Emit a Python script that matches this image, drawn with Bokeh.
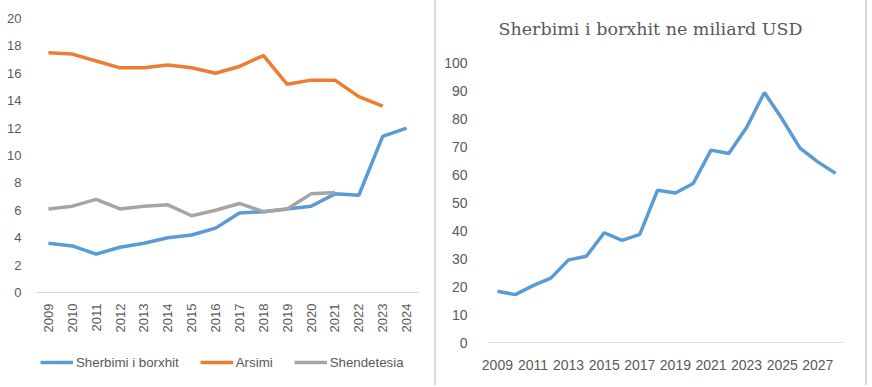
from bokeh.plotting import figure
from bokeh.layouts import row, column
from bokeh.models import Range1d, FixedTicker, Legend, LegendItem, Label
from bokeh.embed import file_html
from bokeh.resources import INLINE

# ---- data: left chart (share, %) ----
years_left = [2009, 2010, 2011, 2012, 2013, 2014, 2015, 2016, 2017, 2018, 2019, 2020, 2021, 2022, 2023, 2024]
sherbimi = [3.6, 3.4, 2.8, 3.3, 3.6, 4.0, 4.2, 4.7, 5.8, 5.9, 6.1, 6.3, 7.2, 7.1, 11.4, 12.0]
years_arsimi = [2009, 2010, 2011, 2012, 2013, 2014, 2015, 2016, 2017, 2018, 2019, 2020, 2021, 2022, 2023]
arsimi = [17.5, 17.4, 16.9, 16.4, 16.4, 16.6, 16.4, 16.0, 16.5, 17.3, 15.2, 15.5, 15.5, 14.3, 13.6]
years_shend = [2009, 2010, 2011, 2012, 2013, 2014, 2015, 2016, 2017, 2018, 2019, 2020, 2021]
shendetesia = [6.1, 6.3, 6.8, 6.1, 6.3, 6.4, 5.6, 6.0, 6.5, 5.9, 6.1, 7.2, 7.3]
left_yticks = [0, 2, 4, 6, 8, 10, 12, 14, 16, 18, 20]
series_names = ["Sherbimi i borxhit", "Arsimi", "Shendetesia"]

# ---- data: right chart (billion USD) ----
years_right = [2009, 2010, 2011, 2012, 2013, 2014, 2015, 2016, 2017, 2018, 2019,
               2020, 2021, 2022, 2023, 2024, 2025, 2026, 2027, 2028]
borxh_usd = [18.3, 17.1, 20.3, 23.0, 29.5, 30.8, 39.2, 36.5, 38.6, 54.4, 53.4,
             56.8, 68.7, 67.5, 76.8, 89.3, 79.8, 69.4, 64.5, 60.4]
right_xticks = [2009, 2011, 2013, 2015, 2017, 2019, 2021, 2023, 2025, 2027]
right_yticks = [0, 10, 20, 30, 40, 50, 60, 70, 80, 90, 100]
title_right = "Sherbimi i borxhit ne miliard USD"

BLUE = "#5b9bd5"
ORANGE = "#ed7d31"
GRAY = "#a5a5a5"
COLORS = [BLUE, ORANGE, GRAY]
LABEL = "#595959"
FONT = "Liberation Sans"
H = 385
H1 = 340
HT = 44
BORDER = {"border-left": "2px solid #d9d9d9", "border-right": "2px solid #d9d9d9"}

# ---------------- left figure ----------------
p1 = figure(width=434, height=H1, output_backend="svg", toolbar_location=None,
            x_range=Range1d(years_left[0] - 0.5, years_left[-1] + 0.5),
            y_range=Range1d(0, 20),
            min_border_left=36, min_border_right=16, min_border_top=18, min_border_bottom=H1 - 292)
p1.outline_line_color = None
p1.grid.visible = False

left_series = [(years_left, sherbimi), (years_arsimi, arsimi), (years_shend, shendetesia)]
for (xs, ys), col in zip(left_series, COLORS):
    p1.line(xs, ys, line_color=col, line_width=3.5)

p1.xaxis.ticker = FixedTicker(ticks=years_left)
p1.xaxis.major_label_orientation = 3.14159265 / 2
p1.xaxis.axis_line_color = "#d9d9d9"
p1.xaxis.major_tick_line_color = None
p1.xaxis.minor_tick_line_color = None
p1.xaxis.major_label_standoff = 5
p1.yaxis.ticker = FixedTicker(ticks=left_yticks)
p1.yaxis.axis_line_color = None
p1.yaxis.major_tick_line_color = None
p1.yaxis.minor_tick_line_color = None
p1.yaxis.major_label_standoff = 9
for ax in (p1.xaxis, p1.yaxis):
    ax.major_label_text_font = FONT
    ax.major_label_text_font_size = "13px"
    ax.major_label_text_color = LABEL

# ---------------- legend strip under the left chart ----------------
p3 = figure(width=434, height=H - H1, output_backend="svg", toolbar_location=None,
            x_range=Range1d(0, 1), y_range=Range1d(0, 1),
            x_axis_location=None, y_axis_location=None,
            min_border_left=36, min_border_right=16, min_border_top=0, min_border_bottom=0)
p3.outline_line_color = None
p3.grid.visible = False
items = []
for name, (xs, ys), col in zip(series_names, left_series, COLORS):
    # same series, drawn outside this strip's visible range: only its legend swatch shows
    r = p3.line(xs, ys, line_color=col, line_width=3.5)
    items.append(LegendItem(label=name, renderers=[r]))
legend = Legend(items=items, orientation="horizontal", location=(4, 13))
legend.border_line_color = None
legend.background_fill_alpha = 0
legend.padding = 0
legend.margin = 0
legend.glyph_width = 33
legend.label_standoff = 3
legend.spacing = 21
legend.label_text_font = FONT
legend.label_text_font_size = "13.3px"
legend.label_text_color = LABEL
p3.add_layout(legend, "center")

# ---------------- title strip above the right chart ----------------
pt = figure(width=433, height=HT, output_backend="svg", toolbar_location=None,
            x_range=Range1d(0, 1), y_range=Range1d(0, 1),
            x_axis_location=None, y_axis_location=None,
            min_border_left=52, min_border_right=25, min_border_top=0, min_border_bottom=0)
pt.outline_line_color = None
pt.grid.visible = False
pt.add_layout(Label(x=0, y=0.36, x_offset=10, text=title_right, text_font="DejaVu Serif",
                    text_font_size="17.5px", text_color=LABEL,
                    text_align="left", text_baseline="middle"))
pt.styles = dict(BORDER)

# ---------------- right figure ----------------
p2 = figure(width=433, height=H - HT, output_backend="svg", toolbar_location=None,
            x_range=Range1d(years_right[0] - 0.5, years_right[-1] + 0.5),
            y_range=Range1d(0, 100),
            min_border_left=52, min_border_right=25, min_border_top=62 - HT,
            min_border_bottom=H - 342)
p2.outline_line_color = None
p2.grid.visible = False
p2.line(years_right, borxh_usd, line_color=BLUE, line_width=3.5)

p2.xaxis.ticker = FixedTicker(ticks=right_xticks)
p2.xaxis.axis_line_color = "#bfbfbf"
p2.xaxis.axis_line_dash = "1 1"
p2.xaxis.major_tick_line_color = None
p2.xaxis.minor_tick_line_color = None
p2.xaxis.major_label_standoff = 11
p2.yaxis.ticker = FixedTicker(ticks=right_yticks)
p2.yaxis.axis_line_color = None
p2.yaxis.major_tick_line_color = None
p2.yaxis.minor_tick_line_color = None
p2.yaxis.major_label_standoff = 15
for ax in (p2.xaxis, p2.yaxis):
    ax.major_label_text_font = FONT
    ax.major_label_text_font_size = "14px"
    ax.major_label_text_color = LABEL
p2.styles = dict(BORDER)

layout = row(column(column(p1), column(p3)), column(column(pt), column(p2)))
open("out.html", "w").write(file_html(layout, INLINE))
